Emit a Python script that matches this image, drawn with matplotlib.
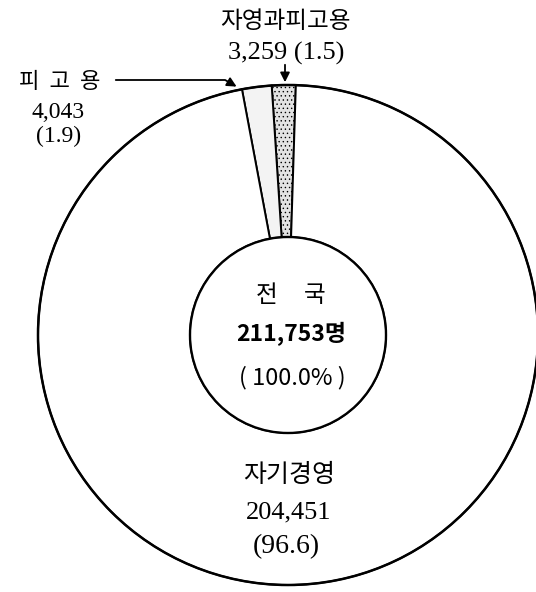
import matplotlib
matplotlib.use('Agg')
import matplotlib.pyplot as plt
from matplotlib.patches import Circle

plt.rcParams['font.family'] = ['Noto Sans CJK KR', 'DejaVu Sans']
plt.rcParams['hatch.linewidth'] = 0.5
plt.rcParams['hatch.color'] = '#666666'

# data
labels = ['자영과피고용', '피고용', '자기경영']
counts = [3259, 4043, 204451]
shares = [1.5, 1.9, 96.6]
total = 211753
totalShare = 100.0

fig = plt.figure(figsize=(5.36, 5.92), dpi=100)
ax = fig.add_axes([0, 0, 1, 1])

# pixel-like coordinates, y going up
cx, cy = 288, 592 - 335
rOut, rIn = 250, 98

wedges, _ = ax.pie(counts, center=(cx, cy), radius=rOut, startangle=88.2,
                   counterclock=True,
                   colors=['#e2e2e2', '#f3f3f3', 'white'],
                   wedgeprops=dict(width=rOut - rIn, edgecolor='black', linewidth=1.4))
wedges[0].set_hatch('....')

ax.add_patch(Circle((cx, cy), rOut, fill=False, edgecolor='black', linewidth=1.8, zorder=3))
ax.add_patch(Circle((cx, cy), rIn, facecolor='white', edgecolor='black', linewidth=1.7, zorder=3))

ax.set_xlim(0, 536)
ax.set_ylim(0, 592)
ax.set_aspect('equal')
ax.axis('off')

serif = ['Liberation Serif', 'DejaVu Serif']

# top label
ax.text(285, 592 - 22, '자영과피고용', ha='center', va='center', fontsize=17)
ax.text(286, 592 - 53, f'{counts[0]:,} ({shares[0]})', ha='center', va='center',
        fontsize=19, family=serif)
ax.annotate('', xy=(285, 592 - 85), xytext=(285, 592 - 62),
            arrowprops=dict(arrowstyle='-|>', color='black', lw=1.3, mutation_scale=14))

# left label
ax.text(60, 592 - 82, '피  고  용', ha='center', va='center', fontsize=16)
ax.text(58, 592 - 112, f'{counts[1]:,}', ha='center', va='center', fontsize=17, family=serif)
ax.text(59, 592 - 136, f'({shares[1]})', ha='center', va='center', fontsize=17, family=serif)
ax.annotate('', xy=(239, 592 - 88), xytext=(113, 592 - 80),
            arrowprops=dict(arrowstyle='-|>', color='black', lw=1.3, mutation_scale=14,
                            connectionstyle='angle,angleA=0,angleB=150,rad=0'))

# center
ax.text(291, 592 - 295, '전     국', ha='center', va='center', fontsize=17)
ax.text(291, 592 - 334, f'{total:,}명', ha='center', va='center', fontsize=16.5, fontweight='bold')
ax.text(292, 592 - 378, f'( {totalShare}% )', ha='center', va='center', fontsize=17)

# bottom label
ax.text(289, 592 - 475, '자기경영', ha='center', va='center', fontsize=18)
ax.text(289, 592 - 512, f'{counts[2]:,}', ha='center', va='center', fontsize=19, family=serif)
ax.text(286, 592 - 547, f'({shares[2]})', ha='center', va='center', fontsize=20, family=serif)

fig.savefig('out.png', dpi=100)
